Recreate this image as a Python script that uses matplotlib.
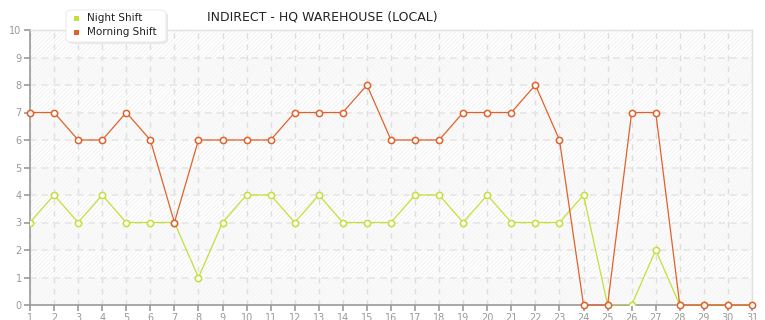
import numpy as np
import matplotlib.pyplot as plt
from matplotlib.patches import Rectangle, FancyBboxPatch

# data
days = list(range(1, 32))
night = [3, 4, 3, 4, 3, 3, 3, 1, 3, 4, 4, 3, 4, 3, 3, 3, 4, 4, 3, 4,
         3, 3, 3, 4, 0, 0, 2, 0, 0, 0, 0]
morning = [7, 7, 6, 6, 7, 6, 3, 6, 6, 6, 6, 7, 7, 7, 8, 6, 6, 6, 7, 7,
           7, 8, 6, 0, 0, 7, 7, 0, 0, 0, 0]
series_names = ['Night Shift', 'Morning Shift']
title = 'INDIRECT - HQ WAREHOUSE (LOCAL)'

night_color = '#c4df3a'
morning_color = '#e0622a'

plt.rcParams['hatch.linewidth'] = 0.6

fig = plt.figure(figsize=(7.65, 3.2), dpi=100)
ax = fig.add_axes([30 / 765, 15 / 320, 722 / 765, 275 / 320])
ax.set_xlim(1, 31)
ax.set_ylim(0, 10)

# alternating bands: plain / hatched
for k in range(10):
    if k % 2 == 0:
        ax.add_patch(Rectangle((1, k), 30, 1, facecolor='#fafafa',
                               edgecolor='#f4f4f4', hatch='////////',
                               linewidth=0, zorder=0))
    else:
        ax.add_patch(Rectangle((1, k), 30, 1, facecolor='white',
                               edgecolor='#efefef', hatch='////////',
                               linewidth=0, zorder=0))

for d in days:
    ax.axvline(d, color='#dedede', linestyle=(0, (4, 4)), linewidth=1, zorder=1)
for v in range(1, 10):
    ax.axhline(v, color='#e6e6e6', linestyle=(0, (4, 3)), linewidth=1.2, zorder=1)

ax.plot(days, night, color=night_color, linewidth=0.9, marker='o',
        markersize=4.5, markerfacecolor='white', markeredgecolor=night_color,
        markeredgewidth=1.1, zorder=3)
ax.plot(days, morning, color=morning_color, linewidth=0.9, marker='o',
        markersize=4.5, markerfacecolor='white', markeredgecolor=morning_color,
        markeredgewidth=1.1, zorder=4, clip_on=False)

ax.set_xticks(days)
ax.set_yticks(range(0, 11))
ax.tick_params(axis='both', colors='#999999', labelsize=7, length=4,
               width=1.2, labelcolor='#999999', pad=2)
for s in ['left', 'bottom']:
    ax.spines[s].set_color('#999999')
    ax.spines[s].set_linewidth(1.2)
for s in ['top', 'right']:
    ax.spines[s].set_color('#e0e0e0')
    ax.spines[s].set_linewidth(1)

fig.text(322 / 765, 1 - 17 / 320, title, ha='center', va='center',
         fontsize=9, color='#222222')

# legend box with a soft shadow
shadow = FancyBboxPatch((68 / 765, 1 - 44 / 320), 100 / 765, 32 / 320,
                        boxstyle='round,pad=0,rounding_size=0.01',
                        transform=fig.transFigure, facecolor='#e8e8e8',
                        edgecolor='none', zorder=4)
fig.patches.append(shadow)
box = FancyBboxPatch((66 / 765, 1 - 42 / 320), 100 / 765, 32 / 320,
                     boxstyle='round,pad=0,rounding_size=0.01',
                     transform=fig.transFigure, facecolor='white',
                     edgecolor='#ececec', linewidth=0.8, zorder=5)
fig.patches.append(box)
for i, (name, c) in enumerate(zip(series_names, [night_color, morning_color])):
    y = 1 - (18 + 14 * i) / 320
    fig.patches.append(Rectangle((74 / 765, y - 2.5 / 320), 5 / 765, 5 / 320,
                                 transform=fig.transFigure, facecolor=c,
                                 edgecolor='none', zorder=6))
    fig.text(87 / 765, y, name, ha='left', va='center', fontsize=7.5,
             color='#222222', zorder=6)

fig.savefig('out.png', dpi=100)
